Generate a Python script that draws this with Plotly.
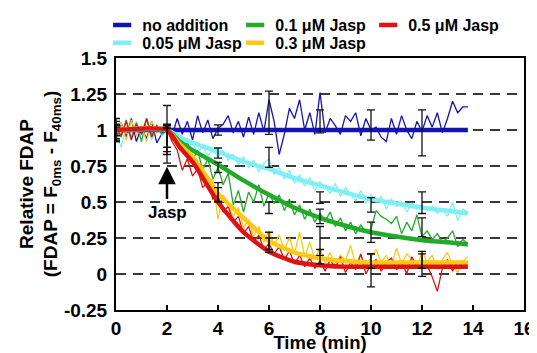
import plotly.graph_objects as go

# ---------------- data ----------------
time_raw = [round(0.2 * i, 1) for i in range(70)]  # 0 .. 13.8 min, sampling step of the recording

blue_raw = [0.93, 1.05, 0.95, 1.08, 0.92, 1.02, 0.94, 1.06, 0.91, 0.98, 1.04,
            0.96, 1.08, 0.97, 1.06, 0.93, 1.10, 0.98, 1.07, 0.94, 1.01,
            1.04, 1.10, 0.98, 1.06, 0.95, 1.09, 0.97, 1.12, 0.99, 1.21,
            1.06, 0.83, 0.97, 1.15, 1.08, 1.21, 1.00, 1.12, 0.97, 1.26,
            0.98, 1.08, 1.03, 0.97, 1.10, 1.06, 1.12, 0.96, 1.08, 1.00,
            1.02, 0.95, 0.92, 1.08, 0.97, 1.10, 1.00, 0.94, 1.06, 0.99,
            1.10, 1.02, 1.12, 0.98, 1.08, 1.20, 1.12, 1.16, 1.16]
cyan_raw = [0.98, 0.88, 1.02, 0.95, 1.06, 0.97, 1.03, 0.93, 1.04, 0.96, 1.00,
            0.97, 0.93, 0.95, 0.87, 0.92, 0.84, 0.89, 0.82, 0.86, 0.81,
            0.86, 0.79, 0.83, 0.76, 0.81, 0.74, 0.79, 0.71, 0.77, 0.80,
            0.69, 0.74, 0.66, 0.72, 0.63, 0.69, 0.61, 0.67, 0.58, 0.64,
            0.60, 0.56, 0.63, 0.54, 0.60, 0.55, 0.51, 0.58, 0.49, 0.55,
            0.50, 0.54, 0.45, 0.52, 0.47, 0.50, 0.43, 0.49, 0.45, 0.48,
            0.44, 0.47, 0.42, 0.45, 0.40, 0.50, 0.37, 0.45, 0.43]
green_raw = [1.00, 0.95, 1.07, 0.94, 1.05, 0.92, 1.08, 0.96, 1.03, 0.97, 1.00,
             0.93, 0.97, 0.86, 0.92, 0.79, 0.86, 0.72, 0.80, 0.66, 0.74,
             0.62, 0.70, 0.48, 0.58, 0.43, 0.57, 0.50, 0.62, 0.47, 0.56,
             0.49, 0.55, 0.44, 0.52, 0.41, 0.48, 0.38, 0.45, 0.36, 0.42,
             0.37, 0.43, 0.33, 0.39, 0.30, 0.36, 0.28, 0.34, 0.29, 0.31,
             0.44, 0.40, 0.38, 0.35, 0.40, 0.28, 0.36, 0.30, 0.41, 0.26,
             0.30, 0.24, 0.28, 0.22, 0.25, 0.30, 0.19, 0.24, 0.21]
yellow_raw = [0.97, 1.05, 0.93, 1.07, 0.96, 1.03, 0.92, 1.06, 0.98, 1.02, 1.00,
              0.95, 0.90, 0.93, 0.80, 0.84, 0.72, 0.75, 0.62, 0.66, 0.38,
              0.55, 0.48, 0.40, 0.46, 0.32, 0.38, 0.26, 0.33, 0.22, 0.30,
              0.20, 0.27, 0.17, 0.25, 0.14, 0.29, 0.12, 0.22, 0.10, 0.18,
              0.08, 0.15, 0.05, 0.13, 0.09, 0.20, 0.06, 0.14, 0.04, 0.12,
              0.17, 0.08, 0.13, 0.05, 0.18, 0.07, 0.14, 0.10, 0.04, 0.16,
              0.08, 0.13, 0.03, 0.10, 0.15, 0.06, 0.01, 0.09, 0.12]
red_raw = [1.02, 0.96, 1.06, 0.93, 1.04, 0.97, 1.08, 0.95, 1.03, 0.99, 1.00,
           0.92, 0.86, 0.72, 0.80, 0.68, 0.73, 0.60, 0.64, 0.52, 0.55,
           0.43, 0.47, 0.36, 0.40, 0.28, 0.33, 0.22, 0.27, 0.17, 0.21,
           0.14, 0.19, 0.10, 0.16, 0.07, 0.13, 0.05, 0.11, 0.04, 0.09,
           0.02, 0.10, 0.04, 0.12, 0.01, 0.08, 0.03, 0.14, 0.00, 0.07,
           0.10, 0.02, 0.08, 0.11, 0.03, 0.09, 0.00, 0.12, 0.05, 0.10,
           0.06, -0.02, -0.12, 0.04, 0.10, 0.02, 0.09, 0.05, 0.08]

time_fit = [0, 2, 2.5, 3, 3.5, 4, 5, 6, 7, 8, 9, 10, 11, 12, 13, 13.8]
blue_fit = [1, 1, 1, 1, 1, 1, 1, 1, 1, 1, 1, 1, 1, 1, 1, 1]
cyan_fit = [1, 1, 0.95, 0.91, 0.88, 0.85, 0.78, 0.73, 0.665, 0.615, 0.565, 0.52, 0.49, 0.46, 0.44, 0.42]
green_fit = [1, 1, 0.92, 0.86, 0.81, 0.76, 0.65, 0.55, 0.46, 0.39, 0.335, 0.29, 0.26, 0.235, 0.22, 0.205]
yellow_fit = [1, 1, 0.90, 0.815, 0.69, 0.56, 0.39, 0.23, 0.15, 0.11, 0.09, 0.08, 0.08, 0.08, 0.08, 0.08]
red_fit = [1, 1, 0.88, 0.78, 0.64, 0.50, 0.29, 0.155, 0.085, 0.06, 0.05, 0.05, 0.05, 0.05, 0.05, 0.05]

# error bars (mean, +/- error) at sampled times
err_time = [0, 2, 4, 6, 8, 10, 12]
blue_err_mean = [1.00, 1.00, 1.00, 1.12, 1.06, 1.035, 0.98]
blue_err = [0.08, 0.17, 0.035, 0.15, 0.08, 0.105, 0.16]
cyan_err_mean = [0.97, 0.96, 0.84, 0.81, 0.53, 0.48, 0.495]
cyan_err = [0.05, 0.08, 0.035, 0.07, 0.04, 0.05, 0.075]
green_err_mean = [1.00, 0.95, 0.74, 0.46, 0.40, 0.29, 0.325]
green_err = [0.06, 0.07, 0.035, 0.04, 0.05, 0.07, 0.065]
yellow_err_mean = [0.98, 0.93, 0.57, 0.23, 0.23, 0.09, 0.09]
yellow_err = [0.05, 0.08, 0.065, 0.06, 0.10, 0.05, 0.05]
red_err_mean = [1.00, 0.90, 0.55, 0.20, 0.12, 0.025, 0.07]
red_err = [0.04, 0.13, 0.05, 0.05, 0.05, 0.115, 0.087]

names = ["no addition", "0.05 \u03bcM Jasp", "0.1 \u03bcM Jasp", "0.3 \u03bcM Jasp", "0.5 \u03bcM Jasp"]
legend_row1 = ["no addition", "0.1 \u03bcM Jasp", "0.5 \u03bcM Jasp"]
legend_row2 = ["0.05 \u03bcM Jasp", "0.3 \u03bcM Jasp"]
colors = {"no addition": "#1414b4", "0.05 \u03bcM Jasp": "#7ef0f4", "0.1 \u03bcM Jasp": "#22aa2a",
          "0.3 \u03bcM Jasp": "#ffc814", "0.5 \u03bcM Jasp": "#dc1414"}
raw = dict(zip(names, [blue_raw, cyan_raw, green_raw, yellow_raw, red_raw]))
fit = dict(zip(names, [blue_fit, cyan_fit, green_fit, yellow_fit, red_fit]))
err_mean = dict(zip(names, [blue_err_mean, cyan_err_mean, green_err_mean, yellow_err_mean, red_err_mean]))
err_size = dict(zip(names, [blue_err, cyan_err, green_err, yellow_err, red_err]))

x_ticks = [0, 2, 4, 6, 8, 10, 12, 14, 16]
y_ticks = [-0.25, 0, 0.25, 0.5, 0.75, 1, 1.25, 1.5]
y_ticktext = ["-0.25", "0", "0.25", "0.5", "0.75", "1", "1.25", "1.5"]

FONT = "Liberation Sans, Arial, sans-serif"

fig = go.Figure()

# noisy raw traces
for n in names:
    fig.add_trace(go.Scatter(x=time_raw, y=raw[n], mode="lines",
                             line=dict(color=colors[n], width=1.3),
                             showlegend=False, hoverinfo="skip"))
# fitted curves
for n in names:
    fig.add_trace(go.Scatter(x=time_fit, y=fit[n], mode="lines",
                             line=dict(color=colors[n], width=4.5, shape="spline", smoothing=0.6),
                             showlegend=False, hoverinfo="skip"))
# error bars
for n in names:
    fig.add_trace(go.Scatter(x=err_time, y=err_mean[n], mode="markers",
                             marker=dict(size=1, opacity=0),
                             error_y=dict(type="data", array=err_size[n], color="#111111",
                                          thickness=1.3, width=4),
                             showlegend=False, hoverinfo="skip"))
# legend entries (two rows)
for row, lg in ((legend_row1, "legend"), (legend_row2, "legend2")):
    for n in row:
        fig.add_trace(go.Scatter(x=[None], y=[None], mode="markers", name=n, legend=lg,
                                 marker=dict(symbol="line-ew-open", size=13, color=colors[n],
                                             line=dict(color=colors[n], width=4.5))))

fig.add_annotation(x=2, y=0.745, ax=2, ay=0.43, xref="x", yref="y", axref="x", ayref="y",
                   text="Jasp", showarrow=True, arrowhead=2, arrowsize=1.4, arrowwidth=2.5,
                   arrowcolor="black", font=dict(family=FONT, size=17, color="black", weight="bold"),
                   standoff=0, startstandoff=2)

legend_style = dict(orientation="h", xref="container", yref="container", x=0.178,
                    xanchor="left", yanchor="top", entrywidth=88, entrywidthmode="pixels",
                    font=dict(family=FONT, size=16, color="black", weight="bold"),
                    tracegroupgap=0, itemsizing="trace", bgcolor="rgba(0,0,0,0)")

# the page body keeps its default 8px offset, so the figure is sized to fill the rest of the window
fig.update_layout(
    width=529, height=345,
    margin=dict(l=107.5, r=12.5, t=50, b=43, autoexpand=False),
    paper_bgcolor="white", plot_bgcolor="white",
    font=dict(family=FONT, size=19, color="black", weight="bold"),
    legend=dict(legend_style, y=1.0),
    legend2=dict(legend_style, y=0.948),
    xaxis=dict(range=[0, 16], tickvals=x_ticks, ticks="inside", ticklen=5, tickwidth=1.5,
               tickcolor="black", showline=True, linecolor="black", linewidth=2, mirror=True,
               showgrid=False, zeroline=False, ticklabelstandoff=0,
               title=dict(text="Time (min)", standoff=0, font=dict(size=18.5))),
    yaxis=dict(range=[-0.25, 1.5], tickvals=y_ticks, ticktext=y_ticktext, ticks="",
               showline=True, linecolor="black", linewidth=2, mirror=True,
               showgrid=True, gridcolor="#3a3a3a", gridwidth=1.5, griddash="10px,7px",
               zeroline=False, ticklabelstandoff=3,
               title=dict(text="Relative FDAP<br>(FDAP = F<sub>0ms</sub> - F<sub>40ms</sub>)",
                          standoff=1, font=dict(size=19))),
)

fig.write_html("out.html")
